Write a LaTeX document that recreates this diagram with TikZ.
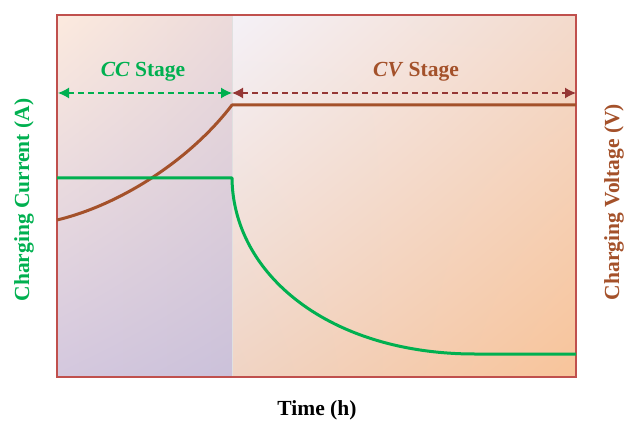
\documentclass[tikz,border=0pt]{standalone}
\usepackage{fontspec}
\setmainfont{Liberation Serif}
\usepackage{tikz}
\tikzset{>=latex}
\usetikzlibrary{arrows,arrows.meta,positioning,shadings}
\definecolor{curgreen}{HTML}{00B050}
\definecolor{voltbrown}{HTML}{A4512A}
\definecolor{cvred}{HTML}{953735}
\definecolor{frame}{HTML}{C0504D}
\definecolor{ccul}{RGB}{252,234,222}
\definecolor{ccur}{RGB}{236,218,218}
\definecolor{ccll}{RGB}{212,200,222}
\definecolor{cclr}{RGB}{203,193,218}
\definecolor{cvul}{RGB}{244,241,247}
\definecolor{cvur}{RGB}{243,218,204}
\definecolor{cvll}{RGB}{240,212,196}
\definecolor{cvlr}{RGB}{248,196,154}
\tikzstyle{lbl} = [font=\fontsize{21.5}{25}\selectfont\bfseries, inner sep=0pt]
\tikzstyle{stage} = [line width=1.4pt, dash pattern=on 6pt off 4pt,
    {Latex[length=11pt,width=11pt,sep=0pt]}-{Latex[length=11pt,width=11pt]}]

\begin{document}
\begin{tikzpicture}[x=1pt, y=-1pt]
    \useasboundingbox (0,0) rectangle (634,422);
    % shaded stages
    \shade[upper left=ccul, upper right=ccur, lower left=ccll, lower right=cclr]
        (57,15) rectangle (232,377);
    \shade[upper left=cvul, upper right=cvur, lower left=cvll, lower right=cvlr]
        (232,15) rectangle (576,377);
    \draw[black!12, line width=0.5pt] (232,15) -- (232,377);
    \draw[frame, line width=2pt] (57,15) rectangle (576,377);

    \coordinate (v0) at (57,220);
    \coordinate (v1) at (232,105);
    \coordinate (v2) at (576,105);
    \coordinate (i0) at (57,178);
    \coordinate (i1) at (232,178);
    \coordinate (i2) at (475,354);
    \coordinate (i3) at (576,354);
    \coordinate (a0) at (58,93);
    \coordinate (a1) at (232,93);
    \coordinate (a2) at (576,93);

    \draw[voltbrown, line width=3pt, line join=round] (v0) .. controls (120,205) and (190,160) .. (v1) -- (v2);
    \draw[curgreen, line width=3pt, line join=round] (i0) -- (i1) .. controls (233,275) and (330,354) .. (i2) -- (i3);

    \draw[stage, curgreen] (a0) -- (a1);
    \draw[stage, cvred] (a1) -- (a2);

    \node[lbl, text=curgreen] (cc) at (143,72) {\textit{CC} Stage};
    \node[lbl, text=voltbrown] (cv) at (416,72) {\textit{CV} Stage};
    \node[lbl, text=curgreen, rotate=90] (ylab) at (24,200) {Charging Current (A)};
    \node[lbl, text=voltbrown, rotate=90] (y2lab) at (614,202) {Charging Voltage (V)};
    \node[lbl] (xlab) at (317,410) {Time (h)};
\end{tikzpicture}
\end{document}
